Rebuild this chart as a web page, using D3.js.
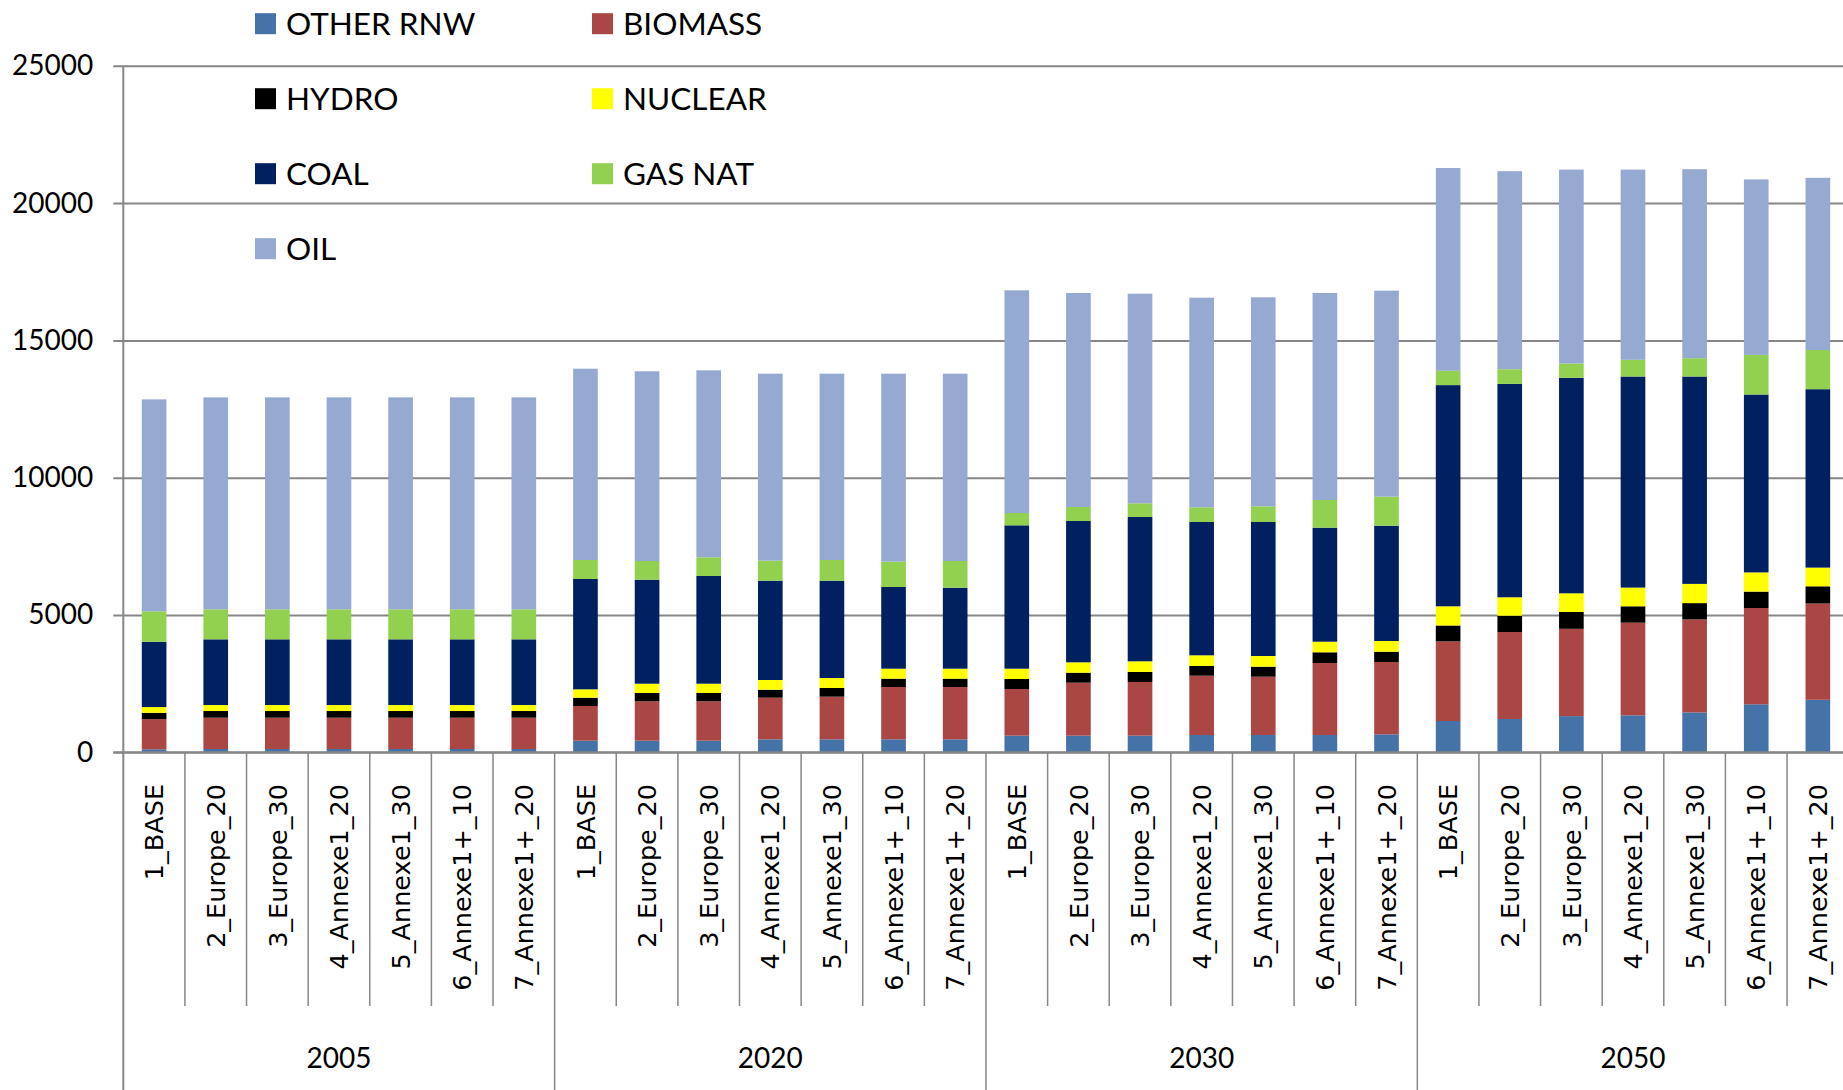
<!DOCTYPE html>
<html>
<head>
<meta charset="utf-8">
<script src="https://cdn.jsdelivr.net/npm/d3@7"></script>
<style>
  body { margin: 0; background: #fff; }
  svg { display: block; }
</style>
</head>
<body>
<script>

// categories: 4 years x 7 scenarios
var years = ["2005", "2020", "2030", "2050"];
var scenarios = ["1_BASE", "2_Europe_20", "3_Europe_30", "4_Annexe1_20",
                 "5_Annexe1_30", "6_Annexe1+_10", "7_Annexe1+_20"];

// series, bottom to top of each stack
var seriesNames = ["OTHER RNW", "BIOMASS", "HYDRO", "NUCLEAR", "COAL", "GAS NAT", "OIL"];
var seriesColors = ["#4572a7", "#aa4643", "#000000", "#ffff00", "#002060", "#92d050", "#95a9d1"];

// values per category, in order 2005 (x7), 2020 (x7), 2030 (x7), 2050 (x7)
var otherRnw = [110, 120, 120, 120, 120, 120, 120,
                423, 423, 423, 473, 473, 473, 473,
                606, 606, 606, 630, 630, 630, 655,
                1140, 1213, 1318, 1347, 1453, 1748, 1912];
var biomass  = [1100, 1140, 1140, 1140, 1140, 1140, 1140,
                1263, 1434, 1434, 1516, 1553, 1905, 1905,
                1699, 1929, 1954, 2160, 2123, 2622, 2634,
                2899, 3168, 3179, 3373, 3387, 3507, 3507];
var hydro    = [230, 243, 243, 243, 243, 243, 243,
                303, 303, 303, 291, 316, 304, 304,
                364, 364, 364, 353, 365, 390, 375,
                579, 593, 612, 597, 593, 597, 626];
var nuclear  = [207, 218, 218, 218, 218, 218, 218,
                305, 338, 338, 353, 364, 363, 363,
                376, 378, 390, 389, 389, 386, 389,
                699, 671, 681, 681, 700, 699, 681];
var coal     = [2378, 2393, 2393, 2393, 2393, 2393, 2393,
                4017, 3788, 3922, 3617, 3544, 2975, 2949,
                5221, 5146, 5255, 4855, 4880, 4152, 4199,
                8055, 7771, 7848, 7687, 7552, 6479, 6497];
var gasNat   = [1107, 1092, 1092, 1092, 1092, 1092, 1092,
                692, 680, 681, 728, 753, 922, 972,
                448, 510, 499, 535, 571, 1008, 1056,
                521, 535, 521, 608, 667, 1442, 1427];
var oil      = [7720, 7720, 7720, 7720, 7720, 7720, 7720,
                6967, 6909, 6810, 6810, 6785, 6846, 6822,
                8110, 7793, 7633, 7633, 7611, 7538, 7503,
                7385, 7211, 7061, 6927, 6883, 6391, 6271];

var yTicks = [0, 5000, 10000, 15000, 20000, 25000];

var seriesValues = [otherRnw, biomass, hydro, nuclear, coal, gasNat, oil];

// build one row per category for d3.stack
var rows = [];
years.forEach(function(yr, gi) {
  scenarios.forEach(function(sc, si) {
    var i = gi * scenarios.length + si;
    var row = { key: yr + "|" + sc, year: yr, scenario: sc };
    seriesNames.forEach(function(s, k) { row[s] = seriesValues[k][i]; });
    rows.push(row);
  });
});

var width = 1843, height = 1090;
var x0 = 123.3, step = 61.62;
var yBase = 752.3, yTop = 65.8;

var svg = d3.select("body").append("svg")
    .attr("width", width)
    .attr("height", height);

// scales
var x = d3.scaleBand()
    .domain(rows.map(function(d) { return d.key; }))
    .range([x0, x0 + step * rows.length])
    .paddingInner(0.6)
    .paddingOuter(0.3);

var y = d3.scaleLinear()
    .domain([0, 25000])
    .range([yBase, yTop]);

var color = d3.scaleOrdinal().domain(seriesNames).range(seriesColors);

var gridColor = "#878787";

// gridlines + value labels
var yAxis = svg.append("g")
    .attr("transform", "translate(" + x0 + ",0)")
    .call(d3.axisLeft(y).tickValues(yTicks).tickSize(10).tickPadding(20).tickFormat(d3.format("d")));
yAxis.select(".domain").remove();
yAxis.selectAll(".tick line")
    .attr("x2", width - x0)
    .attr("x1", -10)
    .attr("stroke", gridColor)
    .attr("stroke-width", 2);
yAxis.selectAll(".tick text")
    .attr("fill", "#000")
    .style("font-family", "Lato, sans-serif")
    .style("font-size", "28px");

// stacked bars
var stacked = d3.stack().keys(seriesNames)(rows);

svg.append("g")
  .selectAll("g")
  .data(stacked)
  .enter().append("g")
    .attr("fill", function(d) { return color(d.key); })
  .selectAll("rect")
  .data(function(d) { return d; })
  .enter().append("rect")
    .attr("x", function(d) { return x(d.data.key); })
    .attr("width", x.bandwidth())
    .attr("y", function(d) { return y(d[1]); })
    .attr("height", function(d) { return y(d[0]) - y(d[1]); });

// vertical value axis line and category axis line
svg.append("line")
    .attr("x1", x0).attr("x2", x0)
    .attr("y1", y(25000)).attr("y2", height)
    .attr("stroke", gridColor).attr("stroke-width", 2);
svg.append("line")
    .attr("x1", x0 - 10).attr("x2", width)
    .attr("y1", yBase).attr("y2", yBase)
    .attr("stroke", gridColor).attr("stroke-width", 2);

// category separators: short ones between scenarios, long ones between years
var bounds = d3.range(1, rows.length + 1);
svg.append("g")
  .selectAll("line")
  .data(bounds)
  .enter().append("line")
    .attr("x1", function(i) { return x0 + i * x.step(); })
    .attr("x2", function(i) { return x0 + i * x.step(); })
    .attr("y1", yBase)
    .attr("y2", function(i) { return i % scenarios.length === 0 ? height : 1006; })
    .attr("stroke", gridColor)
    .attr("stroke-width", 1.5);

// scenario labels, rotated
svg.append("g")
  .selectAll("text")
  .data(rows)
  .enter().append("text")
    .attr("transform", function(d) {
      return "translate(" + (x(d.key) + x.bandwidth() / 2) + ",784) rotate(-90)";
    })
    .attr("text-anchor", "end")
    .attr("dy", "0.36em")
    .style("font-family", "'DejaVu Sans', sans-serif")
    .style("font-size", "25.5px")
    .text(function(d) { return d.scenario; });

// year labels
svg.append("g")
  .selectAll("text")
  .data(years)
  .enter().append("text")
    .attr("x", function(yr, gi) { return x0 + (gi + 0.5) * scenarios.length * x.step(); })
    .attr("y", 1068)
    .attr("text-anchor", "middle")
    .style("font-family", "Lato, sans-serif")
    .style("font-size", "28px")
    .text(function(d) { return d; });

// legend: two columns, entries filled row by row
var legend = svg.append("g")
  .selectAll("g")
  .data(seriesNames)
  .enter().append("g")
    .attr("transform", function(d, i) {
      return "translate(" + (i % 2 === 0 ? 255 : 592) + "," + (23.7 + Math.floor(i / 2) * 75) + ")";
    });

legend.append("rect")
    .attr("x", 0).attr("y", -10.5)
    .attr("width", 21).attr("height", 21)
    .attr("fill", function(d) { return color(d); });

legend.append("text")
    .attr("x", 31)
    .attr("dy", "0.36em")
    .style("font-family", "Lato, sans-serif")
    .style("font-size", "31.5px")
    .text(function(d) { return d; });

</script>
</body>
</html>
